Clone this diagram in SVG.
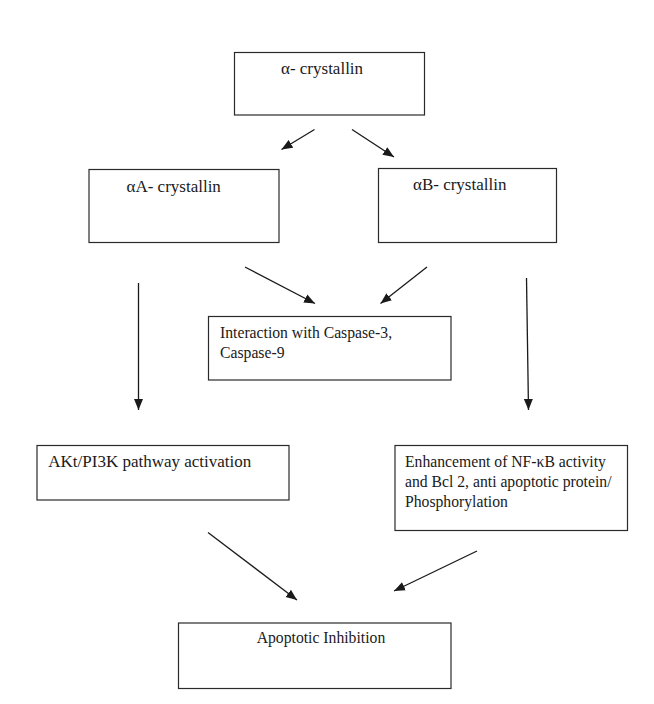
<svg xmlns="http://www.w3.org/2000/svg" width="654" height="704" viewBox="0 0 654 704">
<style>
.box{fill:#fff;stroke:#2a2a2a;stroke-width:1.2}
.t{font-family:"Liberation Serif","Times New Roman",serif;font-size:15.7px;fill:#1a1a1a}
.big{font-size:17px}
.c{stroke:#1a1a1a;stroke-width:1.3;fill:none;marker-end:url(#ah)}
</style>
<defs>
<marker id="ah" markerUnits="userSpaceOnUse" markerWidth="12" markerHeight="10" viewBox="0 0 12 10" refX="11" refY="5" orient="auto">
<path d="M0,0.5 L11,5 L0,9.5 z" fill="#1a1a1a"/>
</marker>
</defs>
<rect width="654" height="704" fill="#fff"/>
<g id="alpha">
<rect class="box" x="234.5" y="52.5" width="190" height="62.5"/>
<text class="t big" x="281" y="74">α- crystallin</text>
</g>
<g id="alphaA">
<rect class="box" x="89" y="169.5" width="190" height="73"/>
<text class="t big" x="126.5" y="191.5">αA- crystallin</text>
</g>
<g id="alphaB">
<rect class="box" x="378.5" y="168.5" width="178" height="74"/>
<text class="t big" x="413" y="190">αB- crystallin</text>
</g>
<g id="caspase">
<rect class="box" x="208.5" y="316.5" width="242.5" height="63.5"/>
<text class="t" x="220" y="338.3">Interaction with Caspase-3,</text>
<text class="t" x="220" y="358.3">Caspase-9</text>
</g>
<g id="akt">
<rect class="box" x="37" y="445.5" width="252" height="54.5"/>
<text class="t big" x="48.3" y="466.7">AKt/PI3K pathway activation</text>
</g>
<g id="nfkb">
<rect class="box" x="395" y="445.5" width="232.5" height="85"/>
<text class="t" x="405" y="466.7">Enhancement of NF-κB activity</text>
<text class="t" x="405" y="486.7">and Bcl 2, anti apoptotic protein/</text>
<text class="t" x="405" y="506.7">Phosphorylation</text>
</g>
<g id="apoptotic">
<rect class="box" x="178.5" y="623" width="272.5" height="65.5"/>
<text class="t" x="256.7" y="643">Apoptotic Inhibition</text>
</g>
<g id="connectors">
<line class="c" x1="314.5" y1="129.5" x2="281.5" y2="149.5"/>
<line class="c" x1="352" y1="129.5" x2="394" y2="157"/>
<line class="c" x1="245" y1="267" x2="315" y2="303.5"/>
<line class="c" x1="427" y1="267" x2="380.5" y2="303.5"/>
<line class="c" x1="138.5" y1="283" x2="138.5" y2="410"/>
<line class="c" x1="526.5" y1="278" x2="528.5" y2="410"/>
<line class="c" x1="208" y1="532.5" x2="297" y2="600"/>
<line class="c" x1="477" y1="551" x2="394" y2="591"/>
</g>
</svg>
